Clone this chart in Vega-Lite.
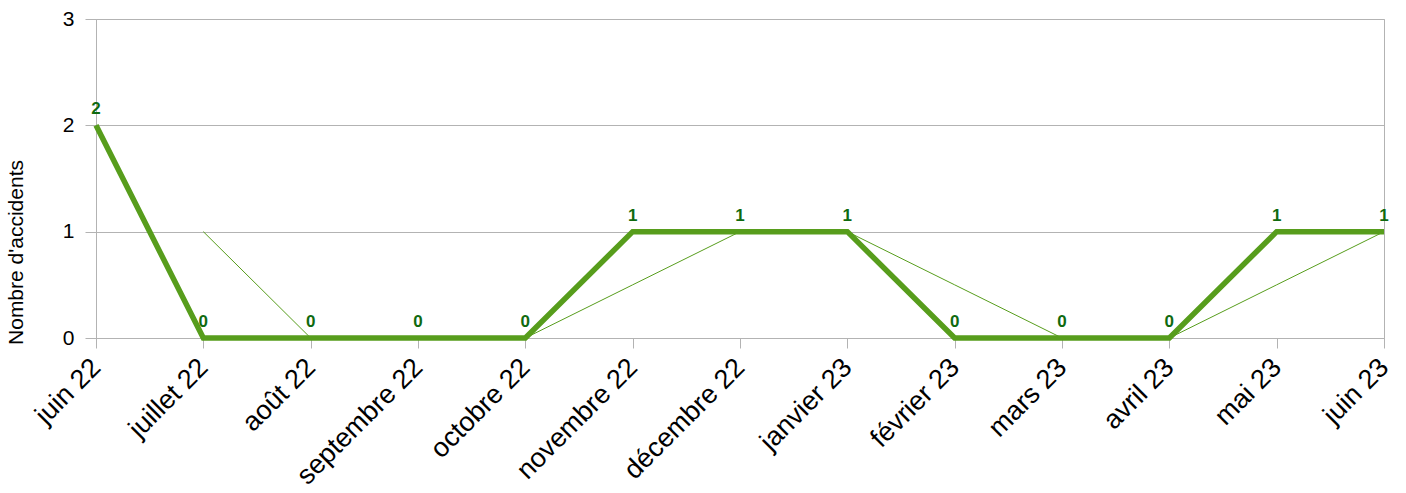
{
  "$schema": "https://vega.github.io/schema/vega-lite/v6.json",
  "autosize": "none",
  "width": 1288,
  "height": 319,
  "padding": {"left": 96, "top": 19, "right": 22, "bottom": 155},
  "background": "white",
  "config": {
    "font": "Liberation Sans",
    "view": {"stroke": "#b3b3b3", "strokeWidth": 1}
  },
  "data": {
    "values": [
      {"mois": "juin 22", "ordre": 1, "accidents": 2, "moyenne": null},
      {"mois": "juillet 22", "ordre": 2, "accidents": 0, "moyenne": 1},
      {"mois": "août 22", "ordre": 3, "accidents": 0, "moyenne": 0},
      {"mois": "septembre 22", "ordre": 4, "accidents": 0, "moyenne": 0},
      {"mois": "octobre 22", "ordre": 5, "accidents": 0, "moyenne": 0},
      {"mois": "novembre 22", "ordre": 6, "accidents": 1, "moyenne": 0.5},
      {"mois": "décembre 22", "ordre": 7, "accidents": 1, "moyenne": 1},
      {"mois": "janvier 23", "ordre": 8, "accidents": 1, "moyenne": 1},
      {"mois": "février 23", "ordre": 9, "accidents": 0, "moyenne": 0.5},
      {"mois": "mars 23", "ordre": 10, "accidents": 0, "moyenne": 0},
      {"mois": "avril 23", "ordre": 11, "accidents": 0, "moyenne": 0},
      {"mois": "mai 23", "ordre": 12, "accidents": 1, "moyenne": 0.5},
      {"mois": "juin 23", "ordre": 13, "accidents": 1, "moyenne": 1}
    ]
  },
  "encoding": {
    "x": {
      "field": "mois",
      "type": "ordinal",
      "sort": {"field": "ordre"},
      "scale": {"type": "point", "padding": 0},
      "axis": {
        "title": null,
        "labelAngle": -45,
        "labelAlign": "right",
        "labelBaseline": "middle",
        "labelFontSize": 27,
        "labelColor": "#000000",
        "labelPadding": 15,
        "labelLimit": 400,
        "tickColor": "#b3b3b3",
        "tickSize": 10,
        "domainColor": "#b3b3b3",
        "grid": false
      }
    }
  },
  "layer": [
    {
      "mark": {"type": "line", "color": "#579d1c", "strokeWidth": 1},
      "encoding": {
        "y": {"field": "moyenne", "type": "quantitative"}
      }
    },
    {
      "mark": {"type": "line", "color": "#579d1c", "strokeWidth": 5.5, "strokeJoin": "miter"},
      "encoding": {
        "y": {
          "field": "accidents",
          "type": "quantitative",
          "scale": {"domain": [0, 3]},
          "axis": {
            "values": [0, 1, 2, 3],
            "format": "d",
            "title": "Nombre d'accidents",
            "titleFontSize": 21,
            "titleFontWeight": "normal",
            "titleColor": "#000000",
            "titleX": -80,
            "titleY": 233,
            "titleAngle": -90,
            "titleAlign": "center",
            "titleBaseline": "middle",
            "labelFontSize": 21,
            "labelColor": "#000000",
            "labelPadding": 11,
            "tickColor": "#b3b3b3",
            "tickSize": 11,
            "domainColor": "#b3b3b3",
            "gridColor": "#b3b3b3"
          }
        }
      }
    },
    {
      "mark": {"type": "text", "color": "#0f6a0f", "fontSize": 17, "fontWeight": "bold", "baseline": "alphabetic", "align": "center", "dy": -11},
      "encoding": {
        "y": {"field": "accidents", "type": "quantitative"},
        "text": {"field": "accidents", "type": "quantitative"}
      }
    }
  ]
}
